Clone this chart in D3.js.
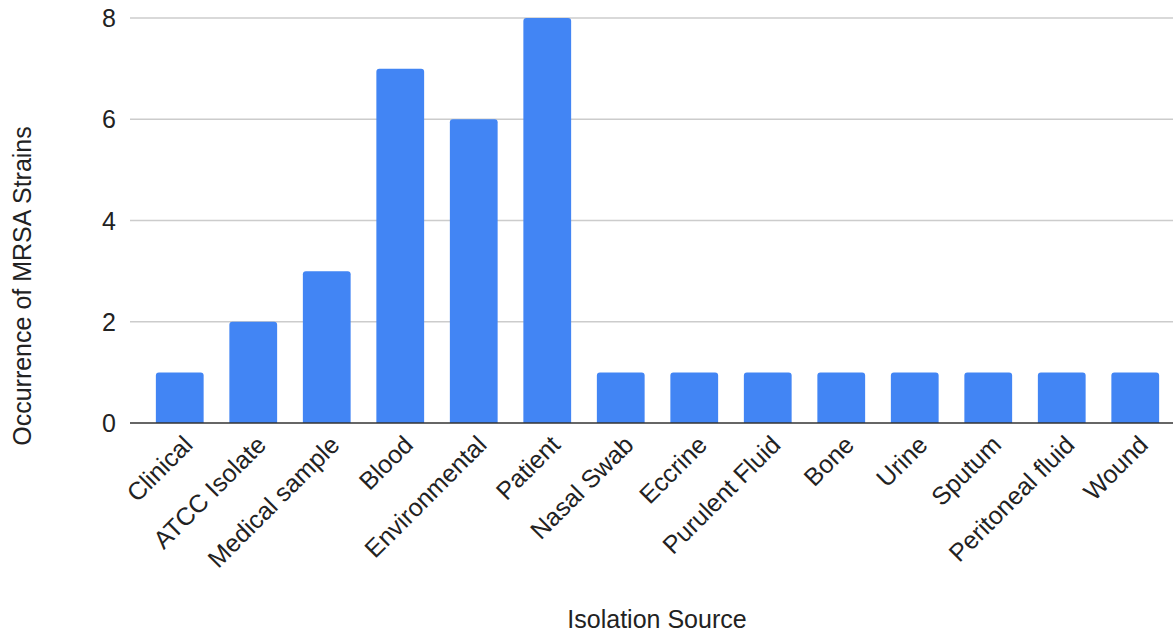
<!DOCTYPE html>
<html>
<head>
<meta charset="utf-8">
<script src="https://cdn.jsdelivr.net/npm/d3@7"></script>
<style>
  html, body { margin: 0; padding: 0; background: #fff; }
  svg { display: block; font-family: "Liberation Sans", Arial, sans-serif; }
</style>
</head>
<body>
<svg id="chart" width="1173" height="632"></svg>
<script>
// Isolation sources and the number of MRSA strains found for each
const sources = ["Clinical", "ATCC Isolate", "Medical sample", "Blood", "Environmental", "Patient",
  "Nasal Swab", "Eccrine", "Purulent Fluid", "Bone", "Urine", "Sputum", "Peritoneal fluid", "Wound"];
const counts = [1, 2, 3, 7, 6, 8, 1, 1, 1, 1, 1, 1, 1, 1];
const yTicks = [0, 2, 4, 6, 8];

const svg = d3.select("#chart");
const gridLeft = 130, gridRight = 1173;
const plotTop = 18, plotBottom = 423;
const fontSize = 25;

const x = d3.scaleBand()
  .domain(sources)
  .range([143, 1172])
  .paddingInner(0.35)
  .paddingOuter(0.175);

const y = d3.scaleLinear().domain([0, 8]).range([plotBottom, plotTop]);

// horizontal gridlines
svg.append("g")
  .selectAll("line")
  .data(yTicks.filter(d => d !== 0))
  .join("line")
  .attr("x1", gridLeft).attr("x2", gridRight)
  .attr("y1", d => y(d)).attr("y2", d => y(d))
  .attr("stroke", "#cccccc").attr("stroke-width", 1.5);

// y tick labels
svg.append("g")
  .selectAll("text")
  .data(yTicks)
  .join("text")
  .attr("x", 116).attr("y", d => y(d))
  .attr("dy", "0.36em")
  .attr("text-anchor", "end")
  .attr("font-size", fontSize)
  .attr("fill", "#222")
  .text(d => d);

// bars with rounded top corners
const r = 3;
svg.append("g")
  .selectAll("path")
  .data(sources.map((s, i) => ({ s, v: counts[i] })))
  .join("path")
  .attr("fill", "#4285F4")
  .attr("d", d => {
    const x0 = x(d.s), w = x.bandwidth(), y0 = y(d.v), y1 = y(0);
    return `M${x0},${y1}V${y0 + r}Q${x0},${y0} ${x0 + r},${y0}H${x0 + w - r}Q${x0 + w},${y0} ${x0 + w},${y0 + r}V${y1}Z`;
  });

// baseline
svg.append("line")
  .attr("x1", gridLeft).attr("x2", gridRight)
  .attr("y1", y(0)).attr("y2", y(0))
  .attr("stroke", "#333").attr("stroke-width", 1.5);

// x tick labels, rotated
svg.append("g")
  .selectAll("text")
  .data(sources)
  .join("text")
  .attr("transform", d => `translate(${x(d) + x.bandwidth() / 2 + 8},${plotBottom + 17}) rotate(-45)`)
  .attr("text-anchor", "end")
  .attr("dy", "0.36em")
  .attr("font-size", fontSize)
  .attr("fill", "#222")
  .text(d => d);

// axis titles
svg.append("text")
  .attr("x", 657).attr("y", 628)
  .attr("text-anchor", "middle")
  .attr("font-size", fontSize)
  .attr("fill", "#222")
  .text("Isolation Source");

svg.append("text")
  .attr("transform", "translate(31,286) rotate(-90)")
  .attr("text-anchor", "middle")
  .attr("font-size", fontSize)
  .attr("fill", "#222")
  .text("Occurrence of MRSA Strains");
</script>
</body>
</html>
